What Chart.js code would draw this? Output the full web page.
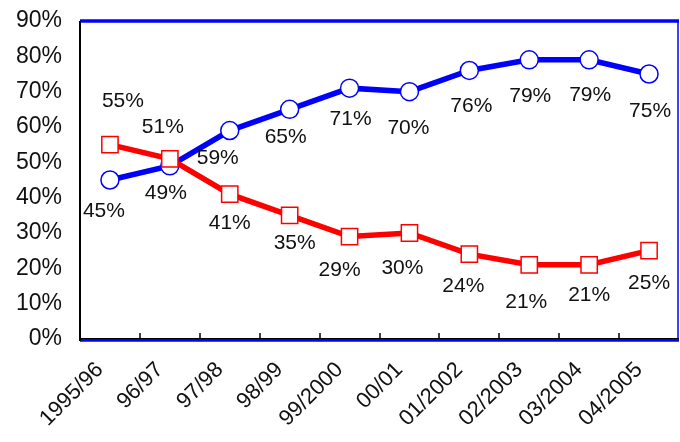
<!DOCTYPE html>
<html>
<head>
<meta charset="utf-8">
<script src="https://cdn.jsdelivr.net/npm/chart.js@4"></script>
<style>
    body { margin: 0; background: #fff; }
    #wrap { width: 680px; height: 442px; position: relative; }
</style>
</head>
<body>
<div id="wrap"><canvas id="line"></canvas></div>
<script>
const seasons = ["1995/96", "96/97", "97/98", "98/99", "99/2000", "00/01", "01/2002", "02/2003", "03/2004", "04/2005"]
const blueValues = [45, 49, 59, 65, 71, 70, 76, 79, 79, 75]
const redValues = [55, 51, 41, 35, 29, 30, 24, 21, 21, 25]
const yTicks = [0, 10, 20, 30, 40, 50, 60, 70, 80, 90]

// label offsets from the point, in px (style only)
const blueLabelOffsets = [[-6, 31], [-4, 27], [-12, 28], [-4, 28], [1, 31], [-1, 37], [2, 36], [1, 36], [1, 35], [1, 37]]
const redLabelOffsets = [[13, -43], [-7, -32], [0, 29], [5, 28], [-10, 34], [-7, 35], [-6, 32], [-3, 37], [0, 30], [0, 33]]

const labelPlugin = {
    id: 'pointLabels',
    afterDatasetsDraw(chart) {
        const ctx = chart.ctx
        ctx.save()
        ctx.font = '21px "Liberation Sans", Arial, sans-serif'
        ctx.fillStyle = '#111'
        ctx.textAlign = 'center'
        ctx.textBaseline = 'middle'
        chart.data.datasets.forEach((ds, di) => {
            const meta = chart.getDatasetMeta(di)
            meta.data.forEach((pt, i) => {
                const off = ds.labelOffsets[i]
                ctx.fillText(ds.data[i] + '%', pt.x + off[0], pt.y + off[1])
            })
        })
        ctx.restore()
    }
}

const framePlugin = {
    id: 'frame',
    beforeDatasetsDraw(chart) {
        const ctx = chart.ctx
        const a = chart.chartArea
        const x = chart.scales.x
        ctx.save()
        // tick marks between categories, pointing up into the plot
        ctx.strokeStyle = '#000'
        ctx.lineWidth = 1.5
        for (let i = 0; i < seasons.length - 1; i++) {
            const px = Math.round((x.getPixelForValue(i) + x.getPixelForValue(i + 1)) / 2)
            ctx.beginPath()
            ctx.moveTo(px, a.bottom - 6)
            ctx.lineTo(px, a.bottom)
            ctx.stroke()
        }
        // blue border
        ctx.strokeStyle = '#0000ff'
        ctx.lineWidth = 3.5
        ctx.beginPath()
        ctx.moveTo(a.left, a.top)
        ctx.lineTo(a.right, a.top)
        ctx.stroke()
        ctx.beginPath()
        ctx.moveTo(a.left, a.bottom + 1)
        ctx.lineTo(a.right, a.bottom + 1)
        ctx.stroke()
        ctx.lineWidth = 1.5
        ctx.beginPath()
        ctx.moveTo(a.right - 1, a.top)
        ctx.lineTo(a.right - 1, a.bottom)
        ctx.stroke()
        // black axis lines
        ctx.strokeStyle = '#000'
        ctx.lineWidth = 1
        ctx.beginPath()
        ctx.moveTo(a.left, a.bottom - 0.5)
        ctx.lineTo(a.right, a.bottom - 0.5)
        ctx.stroke()
        ctx.lineWidth = 2
        ctx.beginPath()
        ctx.moveTo(a.left, a.top)
        ctx.lineTo(a.left, a.bottom + 2)
        ctx.stroke()
        ctx.restore()
    }
}

const data = {
    labels: seasons,
    datasets: [
        {
            label: 'red',
            data: redValues,
            labelOffsets: redLabelOffsets,
            borderColor: '#ff0000',
            borderWidth: 5.5,
            pointStyle: 'rect',
            pointRadius: 11.5,
            pointBorderWidth: 1.5,
            pointBackgroundColor: '#ffffff',
            pointBorderColor: '#ff0000',
            tension: 0,
            order: 0
        },
        {
            label: 'blue',
            data: blueValues,
            labelOffsets: blueLabelOffsets,
            borderColor: '#0000ff',
            borderWidth: 5.5,
            pointStyle: 'circle',
            pointRadius: 9,
            pointBorderWidth: 1.5,
            pointBackgroundColor: '#ffffff',
            pointBorderColor: '#0000ff',
            tension: 0,
            order: 1
        }
    ]
}

const config = {
    type: 'line',
    data: data,
    options: {
        responsive: true,
        maintainAspectRatio: false,
        animation: false,
        layout: { autoPadding: false, padding: { top: 21, right: 1, left: 0, bottom: 0 } },
        plugins: {
            legend: { display: false },
            tooltip: { enabled: false }
        },
        scales: {
            x: {
                type: 'category',
                offset: true,
                grid: { display: false },
                border: { display: false },
                ticks: {
                    autoSkip: false,
                    maxRotation: 45,
                    minRotation: 45,
                    labelOffset: -10,
                    padding: 10,
                    color: '#111',
                    font: { family: '"Liberation Sans", Arial, sans-serif', size: 22 }
                },
                afterFit: (scale) => {
                    scale.height = 103
                    scale.paddingRight = 0
                    scale.paddingLeft = 0
                }
            },
            y: {
                min: 0,
                max: 90,
                afterBuildTicks: (scale) => { scale.ticks = yTicks.map(v => ({ value: v })) },
                grid: { display: false, drawTicks: false },
                border: { display: false },
                ticks: {
                    padding: 18,
                    color: '#111',
                    font: { family: '"Liberation Sans", Arial, sans-serif', size: 23 },
                    callback: (v) => v + '%'
                },
                afterFit: (scale) => {
                    scale.width = 80
                    scale.paddingTop = 0
                    scale.paddingBottom = 0
                }
            }
        }
    },
    plugins: [framePlugin, labelPlugin]
}

new Chart(document.getElementById('line'), config)
</script>
</body>
</html>
